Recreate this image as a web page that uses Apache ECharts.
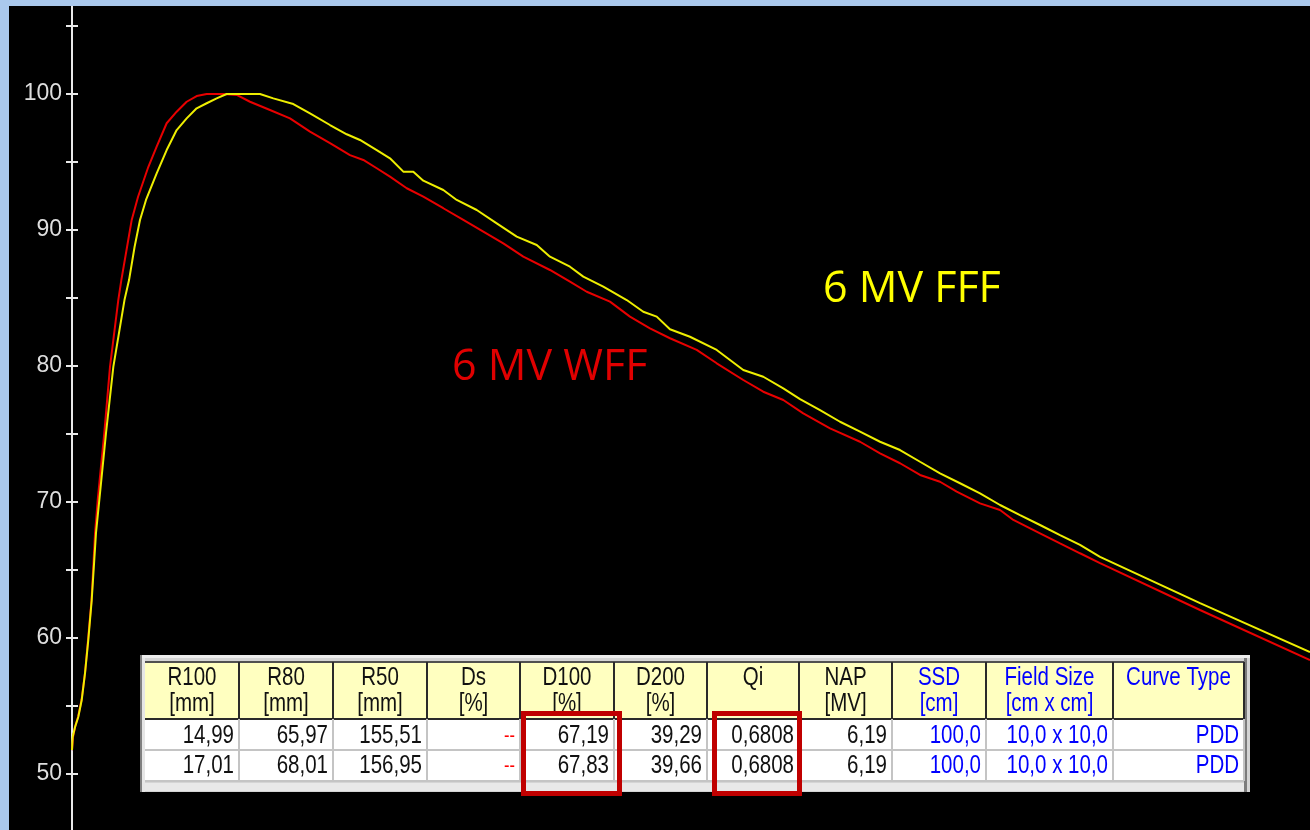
<!DOCTYPE html>
<html><head><meta charset="utf-8">
<script src="https://cdn.jsdelivr.net/npm/echarts@6/dist/echarts.min.js"></script>
<style>
html,body{margin:0;padding:0;background:#aac8ec;width:1310px;height:830px;overflow:hidden;}
#c{position:absolute;left:9px;top:6px;width:1301px;height:824px;}
</style></head><body><div id="c"></div>
<script>
// ---- data (depth in mm, relative dose in %) ----
const wffDepth = [0,0.11,0.32,0.63,1.0,1.37,1.68,2.05,2.42,2.70,3.39,3.99,4.86,5.18,5.78,6.27,6.93,8.01,8.89,9.94,10.99,12.04,13.09,14.14,15.89,17.29,18.69,20.79,22.89,24.99,27.09,29.19,30.59,32.0,33.39,35.15,36.89,38.99,41.09,43.19,45.29,47.39,50.19,52.29,54.05,56.49,58.59,60.69,62.79,65.60,67.70,70.49,72.59,74.69,76.79,79.60,82.75,84.85,86.95,89.05,91.15,92.90,95.35,97.45,98.85,101.65,103.75,105.85,107.95,118.45,130.0];
const wffDose = [51.76,52.72,53.46,54.19,55.44,57.43,59.85,62.79,67.72,70.15,75.07,79.93,84.85,86.32,88.75,90.74,92.43,94.63,96.13,97.85,98.70,99.43,99.85,100.0,100.0,99.93,99.43,98.82,98.21,97.23,96.38,95.51,95.15,94.54,93.92,93.07,92.45,91.60,90.74,89.88,89.02,88.04,87.06,86.20,85.46,84.73,83.63,82.77,82.04,81.18,80.20,78.97,78.11,77.50,76.52,75.42,74.43,73.58,72.85,71.99,71.49,70.76,69.90,69.41,68.68,67.70,66.96,66.23,65.51,62.06,58.38];
const fffDepth = [0,0.07,0.32,0.66,1.02,1.37,1.71,2.07,2.52,2.87,3.57,4.34,5.51,5.99,6.57,7.14,7.77,8.89,9.94,10.99,12.04,13.09,14.14,15.19,16.24,19.74,21.14,23.24,24.99,27.09,28.85,30.24,32.0,33.39,34.79,35.84,36.89,38.99,40.40,42.50,44.60,46.70,48.80,50.19,52.29,53.69,55.79,58.25,59.99,61.40,62.79,64.89,67.70,70.49,72.59,74.69,76.45,78.55,80.65,82.75,84.85,86.95,89.05,91.15,93.25,95.35,97.45,99.55,101.65,103.75,105.85,107.95,118.45,130.0];
const fffDose = [51.76,52.72,53.46,54.19,55.44,57.43,59.85,62.79,67.72,70.15,75.07,79.93,84.85,86.32,88.75,90.74,92.21,94.17,95.88,97.35,98.21,98.95,99.32,99.68,100.0,100.0,99.68,99.26,98.58,97.72,97.04,96.62,95.88,95.27,94.29,94.29,93.63,92.94,92.21,91.47,90.49,89.51,88.90,88.04,87.30,86.57,85.83,84.85,83.99,83.63,82.70,82.15,81.18,79.71,79.21,78.36,77.57,76.76,75.90,75.17,74.43,73.82,72.96,72.11,71.38,70.64,69.78,69.04,68.31,67.57,66.84,65.96,62.57,58.97];

const seriesNames = ['6 MV WFF', '6 MV FFF'];
const yTickValues = [50, 55, 60, 65, 70, 75, 80, 85, 90, 95, 100, 105];
const yTickLabels = [50, 60, 70, 80, 90, 100];

// table
const headLine1 = ['R100','R80','R50','Ds','D100','D200','Qi','NAP','SSD','Field Size','Curve Type'];
const headLine2 = ['[mm]','[mm]','[mm]','[%]','[%]','[%]','','[MV]','[cm]','[cm x cm]',''];
const rowWFF = ['14,99','65,97','155,51','--','67,19','39,29','0,6808','6,19','100,0','10,0 x 10,0','PDD'];
const rowFFF = ['17,01','68,01','156,95','--','67,83','39,66','0,6808','6,19','100,0','10,0 x 10,0','PDD'];
const highlightCols = ['D100', 'Qi'];

// ---- layout / style ----
const OX = 9, OY = 6;
const TFONT = '"Liberation Sans", Arial, sans-serif';
const colEdges = [145,239,333,427,520,614,707,799,892,986,1113,1244];
const rowEdges = [662,719,750,781];
const blueCols = [8,9,10];
const boxEdges = {D100: [521, 622], Qi: [712, 802]};

const pairs = (xs, ys) => xs.map((x, i) => [x, ys[i]]);

function txt(t, x, y, color, size, align) {
  return {type:'text', z: 120, x: x, y: y, scaleX: 0.82, scaleY: 1,
    style:{text:t, x:0, y:0, fill:color,
    font: size + 'px ' + TFONT, align: align, textAlign: align,
    verticalAlign:'middle', textVerticalAlign:'middle'}};
}
function rect(x, y, w, h, fill, z) {
  return {type:'rect', z: z || 100, shape:{x:x, y:y, width:w, height:h}, style:{fill:fill}};
}

const tbl = [];
tbl.push(rect(140, 655, 1110, 137, '#d4d4d4', 100));
tbl.push(rect(140, 655, 1110, 3, '#ededed', 101));
tbl.push(rect(140, 655, 2, 137, '#808080', 101));
tbl.push(rect(142, 658, 3, 134, '#e6e6e6', 101));
tbl.push(rect(1244, 658, 3, 134, '#7c7c7c', 101));
tbl.push(rect(145, 783, 1099, 8, '#e8e8e8', 101));
for (let c = 0; c < headLine1.length; c++) {
  const x0 = colEdges[c], x1 = colEdges[c+1];
  tbl.push(rect(x0, rowEdges[0], x1 - x0, rowEdges[1] - rowEdges[0], '#ffffc0', 102));
  tbl.push(rect(x0, rowEdges[1], x1 - x0, rowEdges[3] - rowEdges[1], '#ffffff', 102));
}
for (let r = 1; r < rowEdges.length; r++) {
  tbl.push(rect(145, rowEdges[r] - 1, 1099, 2, r === 1 ? '#2a2a2a' : '#c4c4c4', 104));
}
tbl.push(rect(145, rowEdges[0] - 1, 1099, 2, '#505050', 104));
for (let c = 1; c < colEdges.length; c++) {
  tbl.push(rect(colEdges[c] - 1, rowEdges[0], 2, rowEdges[1] - rowEdges[0], '#2a2a2a', 104));
  tbl.push(rect(colEdges[c] - 1, rowEdges[1], 2, rowEdges[3] - rowEdges[1], '#c4c4c4', 104));
}
for (let c = 0; c < headLine1.length; c++) {
  const cx = (colEdges[c] + colEdges[c+1]) / 2;
  const xr = colEdges[c+1] - 5;
  const color = blueCols.includes(c) ? '#0000ff' : '#111111';
  tbl.push(txt(headLine1[c], cx, 678, color, 25, 'center'));
  if (headLine2[c]) tbl.push(txt(headLine2[c], cx, 704, color, 25, 'center'));
  [rowWFF, rowFFF].forEach((row, r) => {
    const y = r === 0 ? 736 : 766;
    const v = row[c];
    if (v === '--') tbl.push(txt(v, xr, y, '#ff0000', 20, 'right'));
    else tbl.push(txt(v, xr, y, color, 25, 'right'));
  });
}
highlightCols.forEach(name => {
  const [x0, x1] = boxEdges[name];
  tbl.push({type:'rect', z:130, shape:{x:x0 + 2.5, y:713.5, width:x1 - x0 - 5, height:80},
    style:{fill:'none', stroke:'#c00000', lineWidth:5}});
});

const annotations = [
  {type:'text', z:110, style:{text:seriesNames[0], x:452, y:368, fill:'#e00000',
    font:'43px "Open Sans", sans-serif', align:'left', textAlign:'left', verticalAlign:'middle', textVerticalAlign:'middle'}},
  {type:'text', z:110, style:{text:seriesNames[1], x:823, y:290, fill:'#ffff00',
    font:'43px "Open Sans", sans-serif', align:'left', textAlign:'left', verticalAlign:'middle', textVerticalAlign:'middle'}}
];

const axisCol = '#e8e8e8';
// axis range so that the plot spans the whole black area (50 at y=774, 100 at y=94)
const Y_MIN = 45.8824, Y_MAX = 106.4706;
const chart = echarts.init(document.getElementById('c'));
chart.setOption({
  backgroundColor: '#000000',
  animation: false,
  grid: {left: 63, right: 0, top: 0, bottom: 0, containLabel: false},
  xAxis: {type: 'value', min: 0, max: 130, show: false},
  yAxis: [
    {type: 'value', min: Y_MIN, max: Y_MAX, position: 'left',
     axisLine: {show: true, onZero: false, lineStyle: {color: axisCol, width: 2}},
     axisTick: {show: true, inside: false, length: 6, customValues: yTickValues, lineStyle: {color: axisCol, width: 2}},
     axisLabel: {show: true, margin: 10, color: '#dedede', fontSize: 23, fontFamily: TFONT,
       customValues: yTickLabels, formatter: v => String(v)},
     splitLine: {show: false}},
    {type: 'value', min: Y_MIN, max: Y_MAX, position: 'left',
     axisLine: {show: false},
     axisTick: {show: true, inside: true, length: 6, customValues: yTickValues, lineStyle: {color: axisCol, width: 2}},
     axisLabel: {show: false}, splitLine: {show: false}}
  ],
  series: [
    {type: 'line', name: seriesNames[0], data: pairs(wffDepth, wffDose), showSymbol: false, symbol: 'none',
     lineStyle: {color: '#e80000', width: 2}, z: 3},
    {type: 'line', name: seriesNames[1], data: pairs(fffDepth, fffDose), showSymbol: false, symbol: 'none',
     lineStyle: {color: '#eeee00', width: 2}, z: 4}
  ],
  graphic: [{type: 'group', x: -OX, y: -OY, children: annotations.concat(tbl)}]
});
</script></body></html>
